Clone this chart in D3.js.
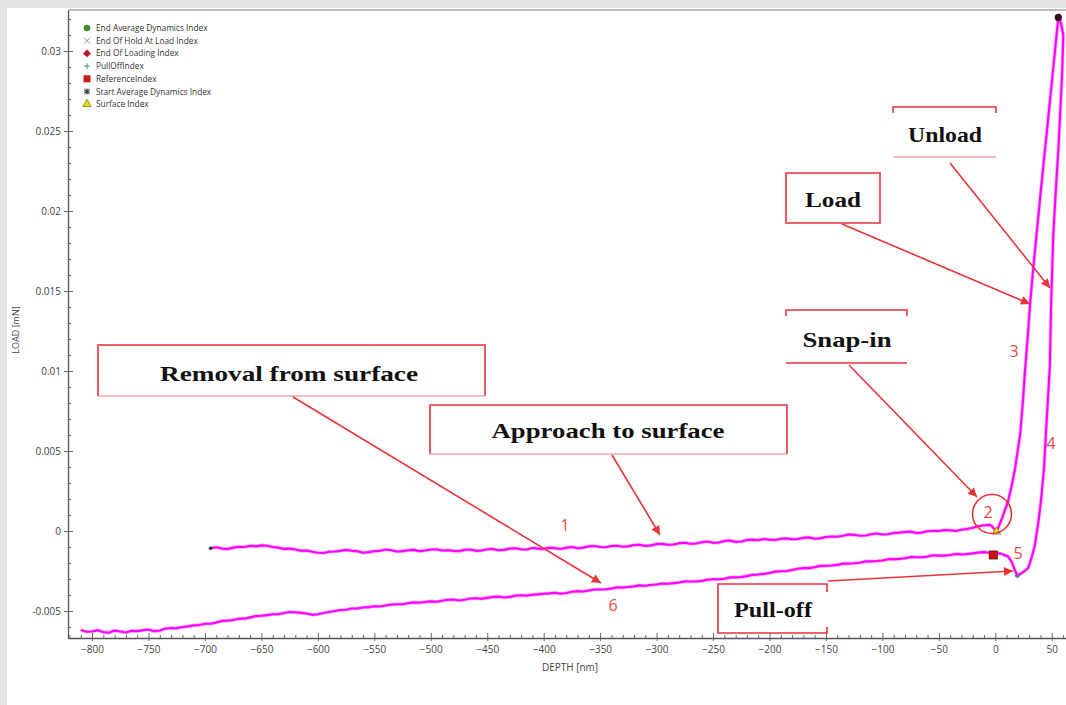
<!DOCTYPE html>
<html><head><meta charset="utf-8">
<script src="https://cdnjs.cloudflare.com/ajax/libs/d3/7.8.5/d3.min.js"></script>
<style>body{margin:0;background:#fff;overflow:hidden}svg{display:block}</style>
</head><body><svg id="c" width="1066" height="705"></svg>
<script>
// ---- data (depth in nm, load in mN) ----
const approachDepth = [-695,-690,-685,-680,-675,-670,-665,-660,-655,-650,-645,-640,-635,-630,-625,-620,-615,-610,-605,-600,-595,-590,-585,-580,-575,-570,-565,-560,-555,-550,-545,-540,-535,-530,-525,-520,-515,-510,-505,-500,-495,-490,-485,-480,-475,-470,-465,-460,-455,-450,-445,-440,-435,-430,-425,-420,-415,-410,-405,-400,-395,-390,-385,-380,-375,-370,-365,-360,-355,-350,-345,-340,-335,-330,-325,-320,-315,-310,-305,-300,-295,-290,-285,-280,-275,-270,-265,-260,-255,-250,-245,-240,-235,-230,-225,-220,-215,-210,-205,-200,-195,-190,-185,-180,-175,-170,-165,-160,-155,-150,-145,-140,-135,-130,-125,-120,-115,-110,-105,-100,-95,-90,-85,-80,-75,-70,-65,-60,-55,-50,-45,-40,-35,-30,-25,-20,-15,-10,-8,-5,-3,1];
const approachLoad = [-0.00108,-0.00102,-0.00110,-0.00112,-0.00104,-0.00098,-0.00100,-0.00092,-0.00096,-0.00090,-0.00092,-0.00100,-0.00104,-0.00112,-0.00110,-0.00116,-0.00124,-0.00122,-0.00130,-0.00136,-0.00138,-0.00130,-0.00128,-0.00124,-0.00118,-0.00124,-0.00126,-0.00136,-0.00132,-0.00126,-0.00124,-0.00116,-0.00120,-0.00128,-0.00126,-0.00120,-0.00118,-0.00126,-0.00122,-0.00116,-0.00114,-0.00122,-0.00120,-0.00124,-0.00126,-0.00118,-0.00116,-0.00124,-0.00122,-0.00114,-0.00112,-0.00120,-0.00118,-0.00110,-0.00108,-0.00114,-0.00116,-0.00106,-0.00110,-0.00112,-0.00104,-0.00108,-0.00112,-0.00104,-0.00100,-0.00108,-0.00104,-0.00096,-0.00094,-0.00100,-0.00102,-0.00094,-0.00092,-0.00098,-0.00096,-0.00088,-0.00086,-0.00094,-0.00090,-0.00082,-0.00080,-0.00086,-0.00084,-0.00076,-0.00074,-0.00080,-0.00078,-0.00070,-0.00066,-0.00074,-0.00072,-0.00062,-0.00060,-0.00068,-0.00066,-0.00056,-0.00054,-0.00058,-0.00050,-0.00054,-0.00056,-0.00048,-0.00046,-0.00052,-0.00050,-0.00042,-0.00040,-0.00048,-0.00046,-0.00038,-0.00034,-0.00036,-0.00030,-0.00022,-0.00024,-0.00030,-0.00028,-0.00020,-0.00016,-0.00022,-0.00020,-0.00012,-0.00010,-0.00006,-0.00004,-0.00012,-0.00010,-0.00002,0.00002,0.00000,0.00006,0.00004,0.00000,0.00008,0.00012,0.00020,0.00030,0.00036,0.00036,0.00038,0.00030,-0.00006];

const loadingDepth = [1,6,11.5,15,17.7,20,22.1,24.5,26.6,29,31,33.7,38,42.5,47,51.4,55.8];
const loadingLoad = [-0.00006,0.0008,0.0019,0.0030,0.0040,0.0051,0.0061,0.0082,0.0103,0.0124,0.0144,0.0165,0.0196,0.0228,0.0259,0.0290,0.0321];

const unloadingDepth = [55.8,58,60.2,59.3,57.5,55.8,53.5,51.4,49.5,48.3,44.8,43.2,40.5,37.8,35,32,29.2,26,23.9,19.5,17,15,11.5,8,4.4,1,-1.8];
const unloadingLoad = [0.0321,0.0318,0.0310,0.0288,0.0262,0.0238,0.0212,0.0186,0.0144,0.0103,0.0061,0.0040,0.0019,0.0004,-0.0009,-0.0017,-0.0023,-0.0025,-0.0026,-0.0028,-0.0024,-0.0020,-0.0016,-0.0015,-0.0014,-0.0014,-0.0015];

const removalDepth = [-810,-805,-800,-795,-790,-785,-780,-775,-770,-765,-760,-755,-750,-745,-740,-735,-730,-725,-720,-715,-710,-705,-700,-695,-690,-685,-680,-675,-670,-665,-660,-655,-650,-645,-640,-635,-630,-625,-620,-615,-610,-605,-600,-595,-590,-585,-580,-575,-570,-565,-560,-555,-550,-545,-540,-535,-530,-525,-520,-515,-510,-505,-500,-495,-490,-485,-480,-475,-470,-465,-460,-455,-450,-445,-440,-435,-430,-425,-420,-415,-410,-405,-400,-395,-390,-385,-380,-375,-370,-365,-360,-355,-350,-345,-340,-335,-330,-325,-320,-315,-310,-305,-300,-295,-290,-285,-280,-275,-270,-265,-260,-255,-250,-245,-240,-235,-230,-225,-220,-215,-210,-205,-200,-195,-190,-185,-180,-175,-170,-165,-160,-155,-150,-145,-140,-135,-130,-125,-120,-115,-110,-105,-100,-95,-90,-85,-80,-75,-70,-65,-60,-55,-50,-45,-40,-35,-30,-25,-20,-15,-10,-5,-1.8];
const removalLoad = [-0.00618,-0.00630,-0.00628,-0.00620,-0.00632,-0.00636,-0.00622,-0.00628,-0.00634,-0.00624,-0.00626,-0.00620,-0.00616,-0.00626,-0.00622,-0.00610,-0.00606,-0.00608,-0.00600,-0.00596,-0.00590,-0.00588,-0.00580,-0.00580,-0.00572,-0.00562,-0.00560,-0.00556,-0.00548,-0.00548,-0.00540,-0.00532,-0.00530,-0.00526,-0.00520,-0.00520,-0.00512,-0.00506,-0.00508,-0.00512,-0.00516,-0.00524,-0.00520,-0.00512,-0.00506,-0.00500,-0.00494,-0.00492,-0.00484,-0.00484,-0.00478,-0.00476,-0.00470,-0.00472,-0.00466,-0.00460,-0.00458,-0.00458,-0.00452,-0.00446,-0.00448,-0.00444,-0.00440,-0.00442,-0.00436,-0.00430,-0.00428,-0.00434,-0.00430,-0.00422,-0.00420,-0.00424,-0.00418,-0.00412,-0.00410,-0.00416,-0.00412,-0.00404,-0.00402,-0.00404,-0.00398,-0.00396,-0.00392,-0.00390,-0.00386,-0.00392,-0.00388,-0.00380,-0.00376,-0.00378,-0.00372,-0.00366,-0.00366,-0.00364,-0.00360,-0.00352,-0.00354,-0.00350,-0.00346,-0.00340,-0.00342,-0.00338,-0.00334,-0.00328,-0.00330,-0.00326,-0.00322,-0.00314,-0.00316,-0.00316,-0.00312,-0.00304,-0.00302,-0.00302,-0.00298,-0.00290,-0.00290,-0.00288,-0.00282,-0.00274,-0.00272,-0.00268,-0.00262,-0.00254,-0.00252,-0.00250,-0.00244,-0.00236,-0.00232,-0.00232,-0.00226,-0.00218,-0.00218,-0.00216,-0.00212,-0.00204,-0.00204,-0.00202,-0.00198,-0.00190,-0.00190,-0.00188,-0.00184,-0.00176,-0.00176,-0.00174,-0.00170,-0.00162,-0.00164,-0.00164,-0.00160,-0.00152,-0.00154,-0.00154,-0.00150,-0.00144,-0.00146,-0.00144,-0.00140,-0.00134,-0.00132,-0.00136,-0.00150];

// special points
const topPoint = [55.8, 0.0321];
const surfacePoint = [1, -0.00004];
const referencePoint = [-1.8, -0.0015];
const pullOffPoint = [19.5, -0.0028];
const startPoint = [-695, -0.00108];

const xTicks = [-800,-750,-700,-650,-600,-550,-500,-450,-400,-350,-300,-250,-200,-150,-100,-50,0,50];
const yTicks = [-0.005,0,0.005,0.01,0.015,0.02,0.025,0.03];
const yTickLabels = ["-0.005","0","0.005","0.01","0.015","0.02","0.025","0.03"];

const legendLabels = ["End Average Dynamics Index","End Of Hold At Load Index","End Of Loading Index","PullOffIndex","ReferenceIndex","Start Average Dynamics Index","Surface Index"];

const phaseNumbers = ["1","2","3","4","5","6"];

// ---- drawing ----
const svg = d3.select("#c");
const W = 1066, H = 705;
const L = 68, T = 10, R = 1080, B = 638;
const x = d3.scaleLinear().domain([-821.3, 75]).range([L, R]);
const y = d3.scaleLinear().domain([-0.006688, 0.032563]).range([B, T]);

svg.append("rect").attr("width", W).attr("height", H).attr("fill", "#fff");
svg.append("rect").attr("x",0).attr("y",0).attr("width",W).attr("height",8).attr("fill","#e3e3e3");
svg.append("rect").attr("x",0).attr("y",0).attr("width",7).attr("height",H).attr("fill","#e3e3e3");

const defs = svg.append("defs");
defs.append("clipPath").attr("id","clip").append("rect").attr("x",L).attr("y",T).attr("width",R-L).attr("height",B-T);
const red = "#e8333a";
defs.append("marker").attr("id","ah").attr("viewBox","0 0 10 10").attr("refX",10).attr("refY",5)
  .attr("markerWidth",11).attr("markerHeight",9).attr("markerUnits","userSpaceOnUse").attr("orient","auto")
  .append("path").attr("d","M0,0L10,5L0,10z").attr("fill",red);

// frame top
svg.append("line").attr("x1",L).attr("x2",W).attr("y1",T).attr("y2",T).attr("stroke","#bdbdbd").attr("stroke-width",2);

// axes
const font = "'Open Sans', 'DejaVu Sans', sans-serif";
const yMinor = d3.range(-6, 33).map(v => v/1000).filter(v => !yTicks.some(t => Math.abs(t - v) < 1e-9));
const xMinor = d3.range(-820, 71, 10).filter(v => v % 50 !== 0);

const gy = svg.append("g").attr("transform", `translate(${L},0)`)
  .call(d3.axisLeft(y).tickValues(yTicks).tickSizeInner(-5).tickSizeOuter(0).tickPadding(7)
    .tickFormat((d,i) => yTickLabels[i]));
gy.selectAll(".tick line").attr("x1",-4).attr("x2",5);
svg.append("g").attr("transform", `translate(${L},0)`)
  .call(d3.axisLeft(y).tickValues(yMinor).tickSizeInner(-3).tickSizeOuter(0).tickFormat(""))
  .select(".domain").remove();

const gx = svg.append("g").attr("transform", `translate(0,${B})`)
  .call(d3.axisBottom(x).tickValues(xTicks).tickSizeInner(-5).tickSizeOuter(0).tickPadding(8));
gx.selectAll(".tick line").attr("y1",3).attr("y2",-5);
svg.append("g").attr("transform", `translate(0,${B})`)
  .call(d3.axisBottom(x).tickValues(xMinor).tickSizeInner(-3).tickSizeOuter(0).tickFormat(""))
  .select(".domain").remove();

svg.selectAll(".domain").attr("stroke","#555").attr("stroke-width",1.3);
svg.selectAll(".tick line").attr("stroke","#666");
svg.selectAll(".tick text").attr("fill","#444").style("font-family",font).style("font-size","10px");

svg.append("text").attr("transform","translate(19,330) rotate(-90)").attr("text-anchor","middle")
  .style("font-family",font).style("font-size","9px").attr("fill","#444").text("LOAD [mN]");
svg.append("text").attr("x",570).attr("y",671).attr("text-anchor","middle")
  .style("font-family",font).style("font-size","10px").attr("fill","#444").text("DEPTH [nm]");

// curves
const plot = svg.append("g").attr("clip-path","url(#clip)");
const line = d3.line().x(d => x(d[0])).y(d => y(d[1]));
const segs = [
  d3.zip(approachDepth, approachLoad),
  d3.zip(loadingDepth, loadingLoad),
  d3.zip(unloadingDepth, unloadingLoad),
  d3.zip(removalDepth, removalLoad)
];
segs.forEach(s => {
  plot.append("path").attr("d", line(s)).attr("fill","none").attr("stroke","#f36cf3").attr("stroke-width",3.6).attr("stroke-linejoin","round").attr("opacity",0.55);
  plot.append("path").attr("d", line(s)).attr("fill","none").attr("stroke","#ff00ff").attr("stroke-width",2.1).attr("stroke-linejoin","round");
});

// special markers
plot.append("circle").attr("cx",x(topPoint[0])).attr("cy",y(topPoint[1])).attr("r",3.6).attr("fill","#3a0a18");
plot.append("circle").attr("cx",x(startPoint[0])).attr("cy",y(startPoint[1])).attr("r",1.8).attr("fill","#333");
plot.append("path").attr("transform",`translate(${x(surfacePoint[0])},${y(surfacePoint[1])})`)
  .attr("d", d3.symbol(d3.symbolTriangle, 30)()).attr("fill","#e6e600").attr("stroke","#7a7a00").attr("stroke-width",0.8);
plot.append("rect").attr("x",x(referencePoint[0])-4).attr("y",y(referencePoint[1])-4).attr("width",8).attr("height",8)
  .attr("fill","#cc1111").attr("stroke","#6a0000").attr("stroke-width",0.8);
plot.append("path").attr("transform",`translate(${x(pullOffPoint[0])},${y(pullOffPoint[1])})`)
  .attr("d", d3.symbol(d3.symbolCross, 14)()).attr("fill","#6a6aa8");

// legend
const lg = svg.append("g").style("font-family",font).style("font-size","8.3px");
const ly0 = 28, ldy = 12.7, lx = 87;
legendLabels.forEach((t,i) => {
  const cy = ly0 + i*ldy;
  lg.append("text").attr("x",96).attr("y",cy+3).attr("fill","#333").text(t);
});
const sym = i => `translate(${lx},${ly0+i*ldy})`;
lg.append("circle").attr("cx",lx).attr("cy",ly0).attr("r",3.3).attr("fill","#3f8a2a");
lg.append("path").attr("transform",sym(1)).attr("d","M-3,-3L3,3M-3,3L3,-3").attr("fill","none").attr("stroke","#888").attr("stroke-width",0.9);
lg.append("path").attr("transform",sym(2)).attr("d",d3.symbol(d3.symbolDiamond2,40)()).attr("fill","#c0141f");
lg.append("path").attr("transform",sym(3)).attr("d","M-3,0H3M0,-3V3").attr("fill","none").attr("stroke","#5a8a8a").attr("stroke-width",1);
lg.append("rect").attr("x",lx-3.5).attr("y",ly0+4*ldy-3.5).attr("width",7).attr("height",7).attr("fill","#d41515");
lg.append("rect").attr("x",lx-3).attr("y",ly0+5*ldy-3).attr("width",6).attr("height",6).attr("fill","#bbb");
lg.append("path").attr("transform",sym(5)).attr("d",d3.symbol(d3.symbolAsterisk,18)()).attr("fill","none").attr("stroke","#222").attr("stroke-width",1);
lg.append("path").attr("transform",sym(6)).attr("d",d3.symbol(d3.symbolTriangle,30)()).attr("fill","#e6e600").attr("stroke","#7a7a00").attr("stroke-width",0.8);

// annotations
const ann = svg.append("g");
const sFont = "'Liberation Serif', 'DejaVu Serif', serif";
function label(txt, cx, base, w){
  ann.append("text").attr("x",cx).attr("y",base).attr("text-anchor","middle")
    .style("font-family",sFont).style("font-size","22px").style("font-weight","bold").attr("fill","#111")
    .attr("textLength",w).attr("lengthAdjust","spacingAndGlyphs").text(txt);
}
function path(d, w=1.6, c=red){ ann.append("path").attr("d",d).attr("fill","none").attr("stroke",c).attr("stroke-width",w); }
function arrow(x1,y1,x2,y2){
  ann.append("line").attr("x1",x1).attr("y1",y1).attr("x2",x2).attr("y2",y2).attr("stroke",red).attr("stroke-width",1.6).attr("marker-end","url(#ah)");
}
// Removal from surface
path("M98,396V345H485V396"); path("M98,396H485",1,"#f07a7e");
label("Removal from surface", 289, 381, 258);
arrow(293,397,601,583);
// Approach to surface
path("M430,454V405H787V454"); path("M430,454H787",1,"#f07a7e");
label("Approach to surface", 608, 438, 233);
arrow(612,455,660,535);
// Load
path("M786,173H880V223H786Z");
label("Load", 833, 207, 56);
arrow(842,224,1030,304);
// Unload
path("M893,113V107H996V113"); path("M893,157H996",1,"#f07a7e");
label("Unload", 945, 142, 74);
arrow(950,163,1050,288);
// Snap-in
path("M786,316V310H907V316"); path("M786,363H907",1.3);
label("Snap-in", 847, 347, 89);
arrow(849,365,977,497);
// Pull-off
path("M827,592V584H718V633H827V627");
label("Pull-off", 773, 617, 78);
arrow(828,581,1013,571);
// circle around 2
ann.append("circle").attr("cx",992).attr("cy",514).attr("r",19.5).attr("fill","none").attr("stroke",red).attr("stroke-width",1.6);

// phase numbers
const numPos = [[565,531],[988,518],[1014,357],[1051,449],[1018,559],[613,611]];
phaseNumbers.forEach((n,i) => {
  ann.append("text").attr("x",numPos[i][0]).attr("y",numPos[i][1]).attr("text-anchor","middle")
    .style("font-family",font).style("font-size","16px").attr("fill","#e34a44").text(n);
});
</script></body></html>
